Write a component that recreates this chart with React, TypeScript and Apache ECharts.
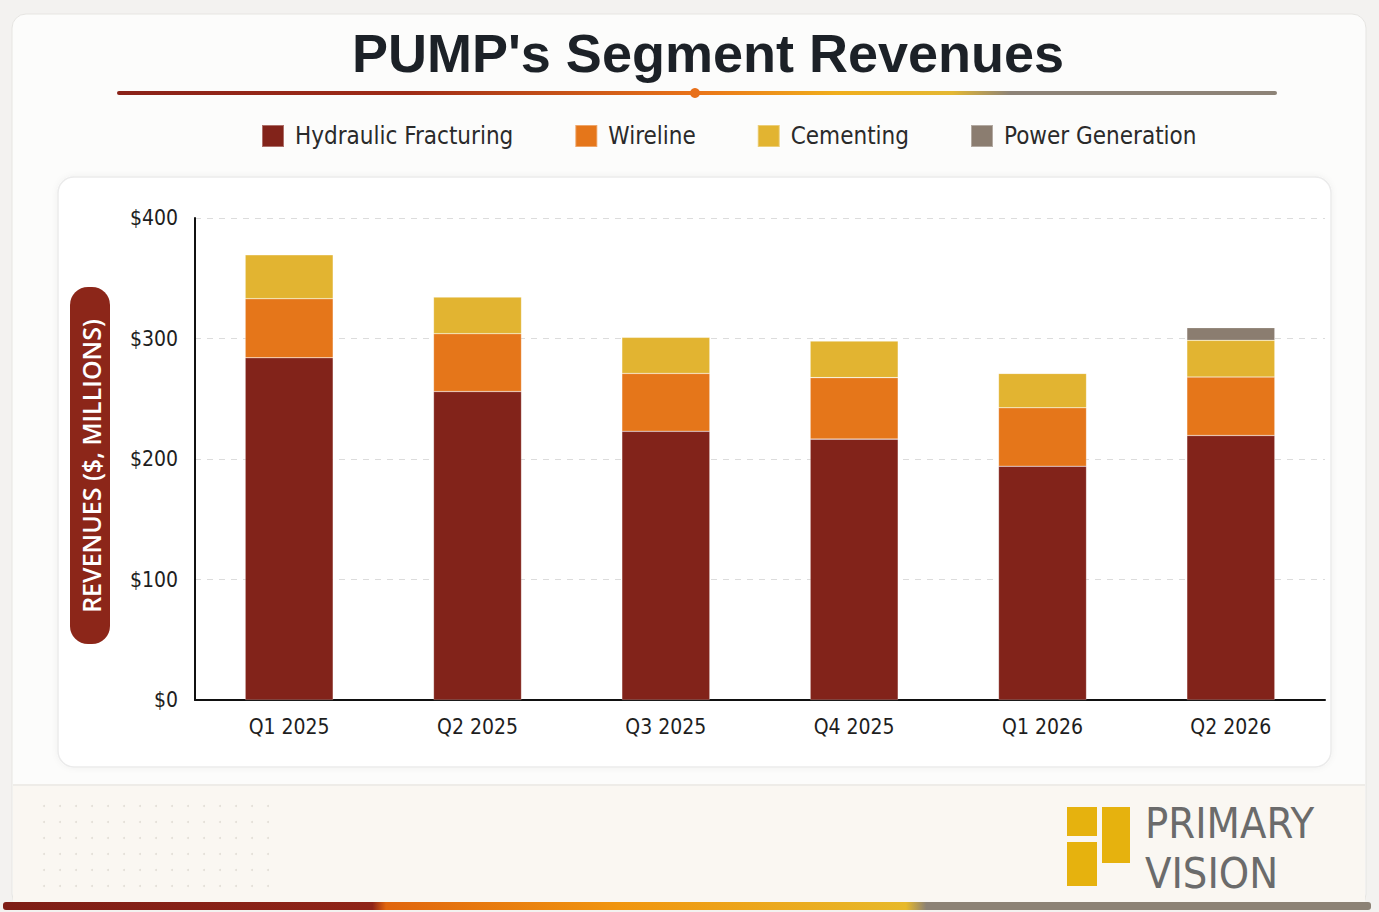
import React, { useEffect, useRef } from 'react';
import * as echarts from 'echarts';

// quarters on the x axis
const quarters = ['Q1 2025', 'Q2 2025', 'Q3 2025', 'Q4 2025', 'Q1 2026', 'Q2 2026'];

// segment revenues, $ millions
const hydraulicFracturing = [284, 256, 223, 216.5, 194, 219.5];
const wireline = [49, 48, 48, 51, 48.5, 48.5];
const cementing = [36.5, 30.5, 30, 30.5, 28.5, 30.5];
const powerGeneration = [0, 0, 0, 0, 0, 10.5];

const segmentNames = ['Hydraulic Fracturing', 'Wireline', 'Cementing', 'Power Generation'];
const segmentColors = ['#82231a', '#e5761a', '#e2b431', '#8b7d70'];

const yTicks = [0, 100, 200, 300, 400];

const NARROW = '"Liberation Sans Narrow", "DejaVu Sans Condensed", "Noto Sans", sans-serif';

const App: React.FC = () => {
    const chartRef = useRef<HTMLDivElement>(null);

    useEffect(() => {
        document.body.style.margin = '0';
        if (!chartRef.current) return;
        const chart = echarts.init(chartRef.current, null, { renderer: 'svg' });

        const series = [hydraulicFracturing, wireline, cementing, powerGeneration].map((vals, i) => ({
            name: segmentNames[i],
            type: 'bar',
            stack: 'rev',
            barWidth: 88,
            data: vals,
            itemStyle: { color: segmentColors[i], borderColor: 'rgba(255,255,255,0.35)', borderWidth: 0.6 },
        }));

        // faint dot pattern in the footer
        const dots: any[] = [];
        for (let r = 0; r < 6; r++) {
            for (let c = 0; c < 15; c++) {
                dots.push({
                    type: 'circle',
                    z: -5,
                    shape: { cx: 44 + c * 16, cy: 806 + r * 16, r: 1 },
                    style: { fill: '#e2ded7' },
                });
            }
        }

        const option = {
            animation: false,
            backgroundColor: '#f3f2f0',
            legend: {
                top: 119,
                left: 256,
                itemWidth: 22,
                itemHeight: 22,
                itemGap: 61,
                icon: 'rect',
                data: segmentNames,
                textStyle: { fontFamily: NARROW, fontSize: 24, color: '#2a2a2a', padding: [0, 0, 0, 6] },
            },
            grid: { left: 195, right: 54, top: 218, bottom: 212 },
            xAxis: {
                type: 'category',
                data: quarters,
                axisLine: { lineStyle: { color: '#111', width: 2 } },
                axisTick: { show: false },
                axisLabel: { fontFamily: NARROW, fontSize: 21, color: '#1e1e1e', margin: 16 },
            },
            yAxis: {
                type: 'value',
                min: 0,
                max: 400,
                interval: 100,
                axisLine: { show: true, lineStyle: { color: '#111', width: 2 } },
                axisTick: { show: false },
                splitLine: { lineStyle: { color: '#dcdcdc', type: [6, 6], width: 1.2 } },
                axisLabel: {
                    fontFamily: NARROW,
                    fontSize: 21,
                    color: '#1e1e1e',
                    margin: 17,
                    formatter: (v: number) => (yTicks.includes(v) ? '$' + v : ''),
                },
            },
            series,
            graphic: [
                // outer card
                {
                    type: 'rect', z: -10,
                    shape: { x: 12, y: 14, width: 1354, height: 894, r: 14 },
                    style: { fill: '#fcfcfb', stroke: '#e6e5e2', lineWidth: 1 },
                },
                // footer band
                {
                    type: 'rect', z: -9,
                    shape: { x: 13, y: 785, width: 1352, height: 120 },
                    style: { fill: '#faf7f2' },
                },
                {
                    type: 'line', z: -9,
                    shape: { x1: 13, y1: 785, x2: 1365, y2: 785 },
                    style: { stroke: '#eeece8', lineWidth: 2 },
                },
                ...dots,
                // plot card
                {
                    type: 'rect', z: -8,
                    shape: { x: 58, y: 177, width: 1273, height: 590, r: 16 },
                    style: { fill: '#ffffff', stroke: '#ebebeb', lineWidth: 1.5, shadowBlur: 6, shadowColor: 'rgba(0,0,0,0.05)' },
                },
                // title
                {
                    type: 'text',
                    x: 708, y: 53,
                    style: {
                        text: "PUMP's Segment Revenues",
                        fontFamily: '"Liberation Sans", Arial, sans-serif',
                        fontWeight: 'bold',
                        fontSize: 54,
                        fill: '#1c2127',
                        align: 'center',
                        verticalAlign: 'middle',
                    },
                },
                // title underline
                {
                    type: 'rect',
                    shape: { x: 117, y: 91, width: 1160, height: 4, r: 2 },
                    style: {
                        fill: new echarts.graphic.LinearGradient(0, 0, 1, 0, [
                            { offset: 0, color: '#8a2218' },
                            { offset: 0.25, color: '#9e2b17' },
                            { offset: 0.5, color: '#ea7418' },
                            { offset: 0.62, color: '#f0ae1c' },
                            { offset: 0.72, color: '#e4b833' },
                            { offset: 0.77, color: '#8d8377' },
                            { offset: 1, color: '#8d8377' },
                        ]),
                    },
                },
                {
                    type: 'circle',
                    shape: { cx: 695, cy: 93, r: 5 },
                    style: { fill: '#e8701a' },
                },
                // y axis title pill
                {
                    type: 'rect',
                    shape: { x: 70, y: 287, width: 40, height: 357, r: 18 },
                    style: { fill: '#8c2619' },
                },
                {
                    type: 'text',
                    x: 91, y: 466,
                    rotation: Math.PI / 2,
                    style: {
                        text: 'REVENUES ($, MILLIONS)',
                        fontFamily: '"Open Sans", "Noto Sans", sans-serif',
                        fontWeight: 600,
                        fontSize: 25,
                        fill: '#ffffff',
                        align: 'center',
                        verticalAlign: 'middle',
                    },
                },
                // logo
                {
                    type: 'rect',
                    shape: { x: 1067, y: 807, width: 30, height: 29 },
                    style: { fill: '#e6b20e' },
                },
                {
                    type: 'rect',
                    shape: { x: 1067, y: 842, width: 30, height: 44 },
                    style: { fill: '#e6b20e' },
                },
                {
                    type: 'rect',
                    shape: { x: 1102, y: 807, width: 28, height: 56 },
                    style: { fill: '#e6b20e' },
                },
                {
                    type: 'text',
                    x: 1145, y: 823,
                    style: {
                        text: 'PRIMARY',
                        fontFamily: NARROW,
                        fontSize: 43,
                        fill: '#6b6b6b',
                        verticalAlign: 'middle',
                    },
                },
                {
                    type: 'text',
                    x: 1145, y: 873,
                    style: {
                        text: 'VISION',
                        fontFamily: NARROW,
                        fontSize: 43,
                        fill: '#6b6b6b',
                        verticalAlign: 'middle',
                    },
                },
                // bottom gradient bar
                {
                    type: 'rect',
                    shape: { x: 3, y: 902, width: 1368, height: 8, r: 3 },
                    style: {
                        fill: new echarts.graphic.LinearGradient(0, 0, 1, 0, [
                            { offset: 0, color: '#7e1e16' },
                            { offset: 0.27, color: '#8f2418' },
                            { offset: 0.28, color: '#e0650e' },
                            { offset: 0.45, color: '#f0950f' },
                            { offset: 0.66, color: '#e7b92a' },
                            { offset: 0.675, color: '#8c8275' },
                            { offset: 1, color: '#8c8275' },
                        ]),
                    },
                },
            ],
        };

        chart.setOption(option);
        return () => {
            chart.dispose();
        };
    }, []);

    return <div ref={chartRef} style={{ width: '1379px', height: '912px' }} />;
};

export default App;
